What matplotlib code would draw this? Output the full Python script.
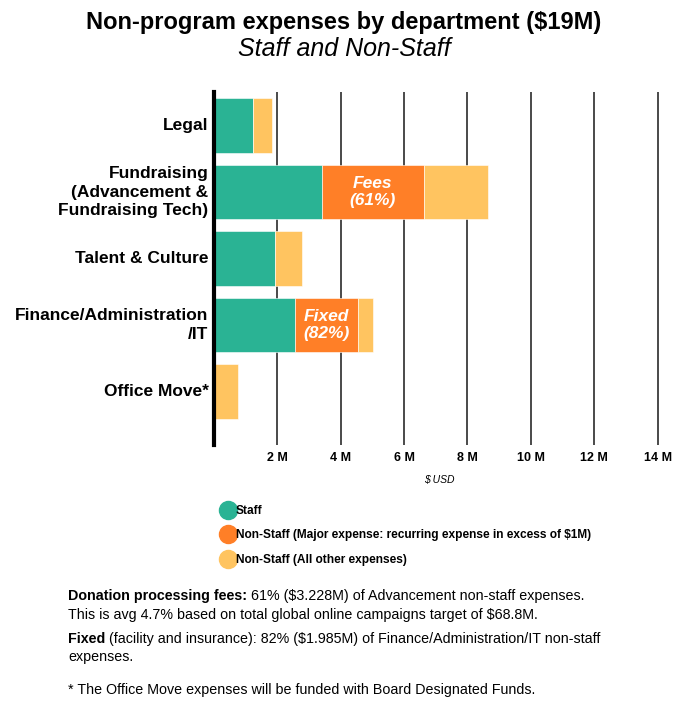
import matplotlib
matplotlib.use("Agg")
import matplotlib.pyplot as plt
import numpy as np
from matplotlib.lines import Line2D

plt.rcParams['font.family'] = ['Liberation Sans', 'DejaVu Sans']

# данные, млн USD
departments = ['Legal', 'Fundraising\n(Advancement &\nFundraising Tech)', 'Talent & Culture',
               'Finance/Administration\n/IT', 'Office Move*']
staff = [1.23, 3.40, 1.92, 2.55, 0.0]
major_non_staff = [0.0, 3.228, 0.0, 1.985, 0.0]
other_non_staff = [0.60, 2.03, 0.86, 0.48, 0.76]
major_labels = ['', 'Fees\n(61%)', '', 'Fixed\n(82%)', '']
x_ticks = [2, 4, 6, 8, 10, 12, 14]
x_tick_labels = ['2 M', '4 M', '6 M', '8 M', '10 M', '12 M', '14 M']

legend_labels = ['Staff',
                 'Non-Staff (Major expense: recurring expense in excess of $1M)',
                 'Non-Staff (All other expenses)']

c_staff = '#2ab394'
c_major = '#ff7f27'
c_other = '#ffc460'

fig = plt.figure(figsize=(6.88, 7.04), dpi=100)
ax = fig.add_axes([0.311, 0.368, 0.654, 0.501])

y = np.arange(len(departments))
staff = np.array(staff)
major_non_staff = np.array(major_non_staff)
other_non_staff = np.array(other_non_staff)

ax.barh(y, staff, height=0.82, color=c_staff, edgecolor='white', linewidth=0.4, zorder=3)
ax.barh(y, major_non_staff, left=staff, height=0.82, color=c_major,
        edgecolor='white', linewidth=0.4, zorder=3)
ax.barh(y, other_non_staff, left=staff + major_non_staff, height=0.82, color=c_other,
        edgecolor='white', linewidth=0.4, zorder=3)

for i, lab in enumerate(major_labels):
    if lab:
        ax.text(staff[i] + major_non_staff[i] / 2.0, y[i], lab, ha='center', va='center',
                color='white', fontsize=12.5, fontweight='bold', fontstyle='italic', zorder=4,
                linespacing=1.15)

ax.set_xlim(0, 14.2)
ax.set_ylim(4.8, -0.5)
ax.set_yticks(y)
ax.set_yticklabels([])
# подписи отделов, выровненные вправо
for i, dep in enumerate(departments):
    ax.text(-0.012, y[i], dep, transform=ax.get_yaxis_transform(), ha='right', va='center',
            multialignment='right', fontsize=12.5, fontweight='bold', linespacing=1.28)
ax.set_xticks(x_ticks)
ax.set_xticklabels(x_tick_labels, fontsize=9, fontweight='bold')
ax.tick_params(axis='both', length=0)
ax.tick_params(axis='x', pad=5)

for xv in x_ticks:
    ax.axvline(xv, color='#4a4a4a', linewidth=1.4, zorder=1)

for side in ['top', 'right', 'bottom']:
    ax.spines[side].set_visible(False)
ax.spines['left'].set_linewidth(3)
ax.spines['left'].set_color('black')
ax.spines['left'].set_zorder(5)

ax.set_xlabel('$ USD', fontsize=7.5, fontstyle='italic', labelpad=8)

fig.text(0.5, 0.968, 'Non-program expenses by department ($19M)', ha='center', va='center',
         fontsize=17, fontweight='bold')
fig.text(0.5, 0.931, 'Staff and Non-Staff', ha='center', va='center',
         fontsize=18, fontstyle='italic')

handles = [Line2D([], [], marker='o', linestyle='', markersize=13, color=c)
           for c in [c_staff, c_major, c_other]]
fig.legend(handles, legend_labels, loc='upper left', bbox_to_anchor=(0.305, 0.298),
           frameon=False, handletextpad=0.05, handlelength=1.2, labelspacing=1.05,
           prop={'size': 8.6, 'weight': 'bold'})

# примечания
notes = [
    (0.099, 0.143, 'Donation processing fees:',
     ' 61% ($3.228M) of Advancement non-staff expenses.'),
    (0.099, 0.117, '', 'This is avg 4.7% based on total global online campaigns target of $68.8M.'),
    (0.099, 0.082, 'Fixed', ' (facility and insurance): 82% ($1.985M) of Finance/Administration/IT non-staff'),
    (0.099, 0.057, '', 'expenses.'),
    (0.099, 0.010, '', '* The Office Move expenses will be funded with Board Designated Funds.'),
]
for xn, yn, bold, normal in notes:
    t = fig.text(xn, yn, bold, ha='left', va='bottom', fontsize=10.3, fontweight='bold')
    plt.annotate(normal, xy=(1, 0), xycoords=t, ha='left', va='bottom', fontsize=10.3)

fig.savefig('out.png', dpi=100)
